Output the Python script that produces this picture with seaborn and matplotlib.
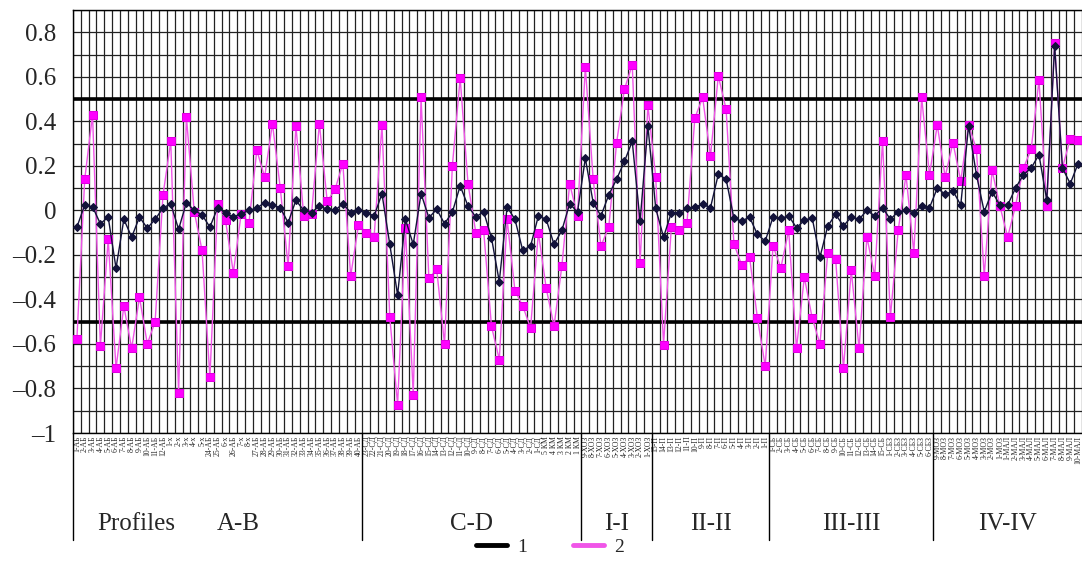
#!/usr/bin/env python3

import numpy as np
import pandas as pd
import seaborn as sns
import matplotlib
matplotlib.use("Agg")
from matplotlib import pyplot as plt
from matplotlib import transforms as mtrans
from matplotlib.lines import Line2D

# profile sections, in order along the x axis
profiles = ["A-B", "C-D", "I-I", "II-II", "III-III", "IV-IV"]

# category labels, one per point
labels_ab = ([f"{i}-АБ" for i in range(1, 13)]
             + [f"{i}-х" for i in range(1, 6)] + ["24-АБ", "25-АБ", "6-х",
                                                   "26-АБ", "7-х", "8-х"]
             + [f"{i}-АБ" for i in range(27, 41)])
labels_cd = [f"{i}-СД" for i in range(23, 0, -1)] + [f"{i} КМ" for i in range(5, 0, -1)]
labels_ii = [f"{i}-ХОЗ" for i in range(9, 0, -1)]
labels_2 = [f"{i}-П" for i in range(15, 0, -1)]
labels_3 = [f"{i}-СБ" for i in range(1, 16)] + [f"{i}-СБЗ" for i in range(1, 7)]
labels_4 = [f"{i}-МОЗ" for i in range(9, 0, -1)] + [f"{i}-МАЛ" for i in range(1, 11)]

# series 1 (dark line, diamonds)
s1_ab = [-0.075, 0.024, 0.016, -0.06, -0.03, -0.26, -0.04, -0.12, -0.03, -0.08,
         -0.04, 0.01, 0.03, -0.085, 0.035, 0.0, -0.02, -0.075, 0.012, -0.01,
         -0.03, -0.015, 0.0, 0.01, 0.035, 0.024, 0.012, -0.055, 0.045, 0.0,
         -0.01, 0.02, 0.005, 0.0, 0.03, -0.01, 0.0]
s1_cd = [-0.01, -0.025, 0.075, -0.153, -0.38, -0.04, -0.153, 0.075, -0.033, 0.005,
         -0.06, -0.008, 0.11, 0.02, -0.03, -0.006, -0.123, -0.32, 0.015, -0.04,
         -0.18, -0.16, -0.025, -0.04, -0.153, -0.09, 0.03, -0.008]
s1_ii = [0.234, 0.035, -0.025, 0.07, 0.14, 0.22, 0.31, -0.05, 0.38]
s1_2 = [0.009, -0.12, -0.01, -0.01, 0.009, 0.015, 0.027, 0.012, 0.162, 0.14,
        -0.036, -0.048, -0.03, -0.108, -0.138]
s1_3 = [-0.03, -0.036, -0.025, -0.078, -0.045, -0.033, -0.21, -0.07, -0.018, -0.07,
        -0.03, -0.04, 0.0, -0.025, 0.012, -0.04, -0.006, 0.0, -0.01, 0.02, 0.012]
s1_4 = [0.1, 0.072, 0.087, 0.024, 0.38, 0.16, -0.006, 0.084, 0.024, 0.024,
        0.1, 0.16, 0.19, 0.25, 0.045, 0.74, 0.19, 0.12, 0.21]

# series 2 (magenta line, squares)
s2_ab = [-0.576, 0.14, 0.43, -0.61, -0.13, -0.71, -0.43, -0.62, -0.39, -0.6,
         -0.5, 0.067, 0.31, -0.82, 0.42, -0.006, -0.18, -0.75, 0.03, -0.045,
         -0.28, -0.015, -0.055, 0.27, 0.15, 0.39, 0.1, -0.25, 0.38, -0.025,
         -0.015, 0.39, 0.04, 0.094, 0.21, -0.295, -0.066]
s2_cd = [-0.1, -0.118, 0.384, -0.48, -0.873, -0.078, -0.828, 0.507, -0.306, -0.265,
         -0.6, 0.2, 0.594, 0.12, -0.1, -0.09, -0.52, -0.67, -0.04, -0.36,
         -0.43, -0.528, -0.1, -0.35, -0.52, -0.25, 0.12, -0.025]
s2_ii = [0.645, 0.14, -0.16, -0.075, 0.304, 0.544, 0.654, -0.235, 0.472]
s2_2 = [0.15, -0.603, -0.075, -0.09, -0.055, 0.414, 0.507, 0.244, 0.604, 0.454,
        -0.15, -0.247, -0.21, -0.483, -0.7]
s2_3 = [-0.16, -0.258, -0.09, -0.62, -0.3, -0.483, -0.6, -0.19, -0.217, -0.71,
        -0.27, -0.62, -0.12, -0.295, 0.312, -0.48, -0.09, 0.159, -0.19, 0.507, 0.159]
s2_4 = [0.384, 0.15, 0.304, 0.132, 0.384, 0.274, -0.295, 0.18, 0.02, -0.12,
        0.02, 0.189, 0.274, 0.585, 0.02, 0.75, 0.192, 0.32, 0.315]

y_ticks = [-1, -0.8, -0.6, -0.4, -0.2, 0, 0.2, 0.4, 0.6, 0.8]
y_tick_labels = ["–1", "–0.8", "–0.6", "–0.4", "–0.2", "0", "0.2", "0.4", "0.6", "0.8"]
limits = [-0.5, 0.5]
legend_labels = ["1", "2"]


def main():
    labels = labels_ab + labels_cd + labels_ii + labels_2 + labels_3 + labels_4
    s1 = s1_ab + s1_cd + s1_ii + s1_2 + s1_3 + s1_4
    s2 = s2_ab + s2_cd + s2_ii + s2_2 + s2_3 + s2_4
    sizes = [len(a) for a in (s1_ab, s1_cd, s1_ii, s1_2, s1_3, s1_4)]
    n = len(labels)
    df = pd.DataFrame({"idx": np.arange(n), "label": labels, "s1": s1, "s2": s2})

    sns.set_style("white")
    plt.rcParams["font.family"] = ["Liberation Serif", "DejaVu Serif"]

    fig = plt.figure(figsize=(10.82, 5.64), dpi=100)
    ax = fig.add_axes([73 / 1082, 1 - 433 / 564, 1009 / 1082, 423 / 564])

    pink = "#f055e8"
    dark = "#12123a"
    sns.lineplot(data=df, x="idx", y="s2", ax=ax, color=pink, lw=1.0,
                 marker="s", markersize=5.5, markerfacecolor="#ff00ff",
                 markeredgecolor="#e000e0", legend=False, zorder=4)
    sns.lineplot(data=df, x="idx", y="s1", ax=ax, color=dark, lw=1.0,
                 marker="D", markersize=4.2, markerfacecolor=dark,
                 markeredgecolor=dark, legend=False, zorder=5)

    for lim in limits:
        ax.axhline(lim, color="black", lw=2.6, zorder=3)

    ax.set_xlim(-0.5, n - 0.5)
    ax.set_ylim(-1, 0.9)
    ax.set_yticks(y_ticks)
    ax.set_yticklabels(y_tick_labels)
    ax.set_yticks(np.arange(-1, 0.91, 0.1), minor=True)
    ax.set_xticks(df["idx"])
    ax.set_xticklabels(df["label"], rotation=90, fontsize=5.6)
    ax.set_xticks(np.arange(-0.5, n, 1), minor=True)
    ax.grid(False)
    # vertical lines between categories, horizontal lines every 0.1
    ax.grid(axis="x", which="minor", color="#222222", lw=0.9, zorder=1)
    ax.grid(axis="y", which="both", color="#222222", lw=0.9, zorder=1)
    ax.set_axisbelow(True)
    ax.set_xlabel("")
    ax.set_ylabel("")

    ax.tick_params(axis="x", which="major", length=0, pad=2)
    ax.tick_params(axis="x", which="minor", length=4, width=0.8,
                   direction="out", color="black")
    ax.tick_params(axis="y", which="both", length=0, labelsize=18, pad=12)

    for side in ["left", "top", "bottom"]:
        ax.spines[side].set_color("black")
        ax.spines[side].set_linewidth(1)
    ax.spines["right"].set_visible(False)

    # profile separators and names under the axis
    trans = mtrans.blended_transform_factory(ax.transData, ax.transAxes)
    bounds = np.concatenate([[0], np.cumsum(sizes)]) - 0.5
    for b in bounds[:-1]:
        ax.plot([b, b], [0, -0.253], transform=trans, color="black",
                lw=1, clip_on=False)
    for i, name in enumerate(profiles):
        mid = (bounds[i] + bounds[i + 1]) / 2
        if i == 0:
            ax.text(7.6, -0.215, "Profiles", transform=trans, ha="center",
                    va="center", fontsize=18)
            mid = 20.6
        ax.text(mid, -0.215, name, transform=trans, ha="center",
                va="center", fontsize=18)

    handles = [Line2D([], [], color="black", lw=3.5),
               Line2D([], [], color=pink, lw=3.5)]
    fig.legend(handles, legend_labels, loc="center",
               bbox_to_anchor=(550 / 1082, 1 - 547 / 564), ncol=2,
               frameon=False, fontsize=14, handlelength=1.6,
               handletextpad=0.5, columnspacing=2.4)

    fig.savefig("out.png", dpi=100)
    plt.close(fig)


if __name__ == "__main__":
    main()
